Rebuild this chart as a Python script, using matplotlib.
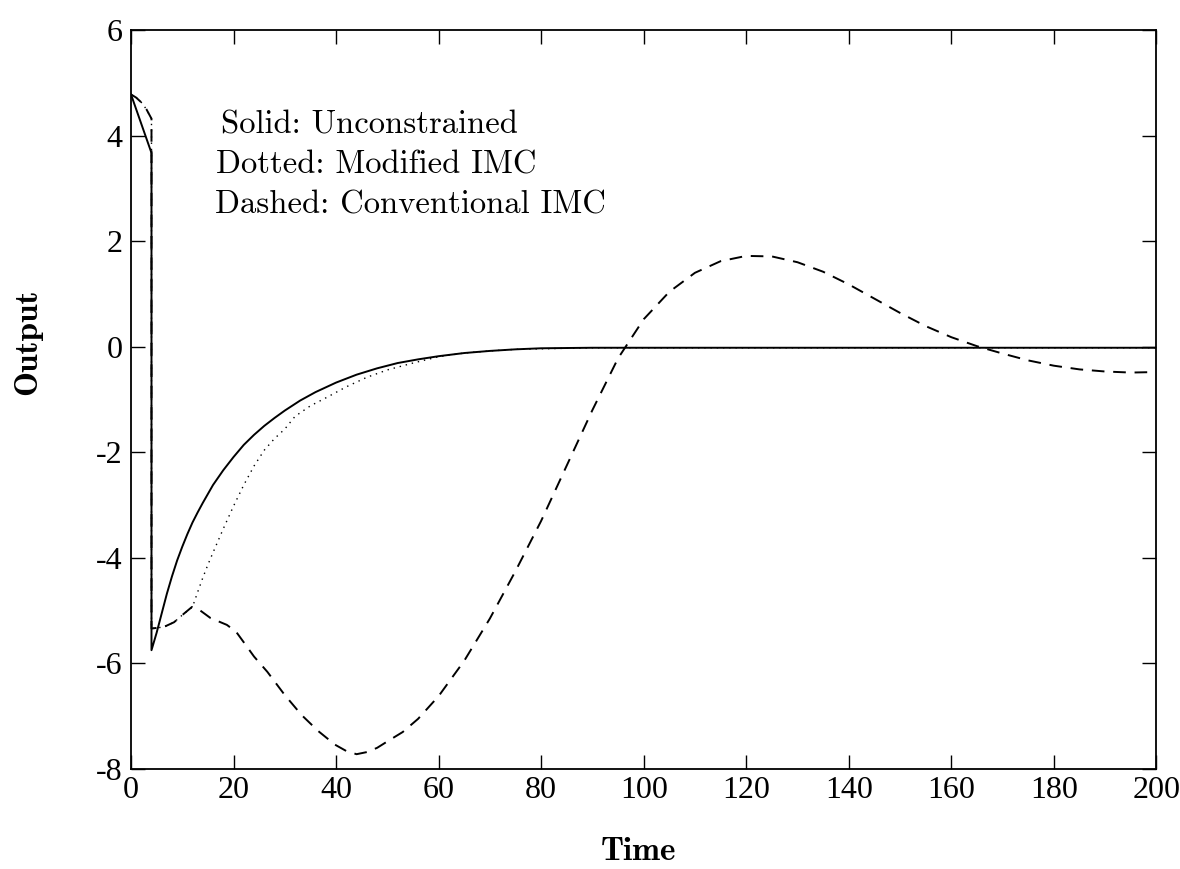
import matplotlib
matplotlib.use("Agg")
import matplotlib.pyplot as plt

plt.rcParams["axes.unicode_minus"] = False

# Unconstrained controller response
t_solid = [0, 4, 4, 5, 6, 7, 8, 9, 10, 11, 12, 13, 14, 16, 18, 20, 22, 24, 26,
           28, 30, 33, 36, 40, 44, 48, 52, 56, 60, 65, 70, 75, 80, 90, 100,
           120, 140, 160, 180, 200]
y_solid = [4.78, 3.67, -5.75, -5.42, -5.05, -4.68, -4.35, -4.05, -3.79, -3.55,
           -3.33, -3.14, -2.96, -2.62, -2.34, -2.09, -1.86, -1.67, -1.50, -1.35,
           -1.21, -1.02, -0.86, -0.68, -0.53, -0.41, -0.31, -0.24, -0.18, -0.12,
           -0.08, -0.05, -0.03, -0.02, -0.02, -0.02, -0.02, -0.02, -0.02, -0.02]

# Modified IMC response
t_dotted = [0, 1, 2, 3, 4, 4, 6.4, 8.4, 10.3, 12, 13, 14, 15, 16, 18, 20, 22,
            24, 26, 28, 30, 32, 35, 38, 42, 46, 50, 55, 60, 65, 70, 75, 80, 90,
            100, 120, 140, 160, 180, 200]
y_dotted = [4.78, 4.72, 4.63, 4.50, 4.32, -5.34, -5.31, -5.22, -5.06, -4.93,
            -4.65, -4.38, -4.13, -3.90, -3.45, -3.02, -2.62, -2.26, -1.96, -1.74,
            -1.56, -1.32, -1.12, -0.97, -0.76, -0.58, -0.44, -0.31, -0.19, -0.12,
            -0.08, -0.05, -0.04, -0.02, -0.02, -0.02, -0.02, -0.02, -0.02, -0.02]

# Conventional IMC response
t_dashed = [0, 1, 2, 3, 4, 4, 6.4, 8.4, 10.3, 11.9, 13.4, 15.5, 18.7, 20.5, 22,
            24, 26.6, 30, 33.3, 36.5, 39.8, 42, 44, 46, 48, 50.3, 53, 56, 60, 65,
            70, 75, 80, 85, 90, 95, 100, 105, 110, 115, 120, 125, 130, 135, 140,
            145, 150, 155, 160, 165, 170, 175, 180, 185, 190, 195, 200]
y_dashed = [4.78, 4.72, 4.63, 4.50, 4.32, -5.34, -5.31, -5.22, -5.06, -4.93,
            -4.99, -5.14, -5.27, -5.40, -5.60, -5.87, -6.16, -6.60, -6.98, -7.28,
            -7.54, -7.66, -7.72, -7.68, -7.60, -7.46, -7.30, -7.05, -6.62, -5.95,
            -5.15, -4.25, -3.30, -2.25, -1.20, -0.22, 0.52, 1.04, 1.40, 1.62,
            1.72, 1.71, 1.60, 1.42, 1.18, 0.91, 0.64, 0.39, 0.18, 0.01, -0.13,
            -0.26, -0.36, -0.43, -0.47, -0.49, -0.48]

x_ticks = [0, 20, 40, 60, 80, 100, 120, 140, 160, 180, 200]
y_ticks = [-8, -6, -4, -2, 0, 2, 4, 6]

tick_font = "Liberation Serif"
text_font = "cmr10"
label_font = "cmb10"

fig = plt.figure(figsize=(11.8, 8.69), dpi=100)
ax = fig.add_axes([0.111, 0.1151, 0.869, 0.8504])

ax.plot(t_solid, y_solid, color="black", lw=1.4, ls="-")
ax.plot(t_dotted, y_dotted, color="black", lw=1.0, ls=(0, (1, 3.5)))
ax.plot(t_dashed, y_dashed, color="black", lw=1.4, ls=(0, (6.5, 4.5)))

ax.set_xlim(0, 200)
ax.set_ylim(-8, 6)
ax.set_xticks(x_ticks)
ax.set_yticks(y_ticks)
ax.set_xticklabels([str(v) for v in x_ticks], fontfamily=tick_font, fontsize=23)
ax.set_yticklabels([str(v) for v in y_ticks], fontfamily=tick_font, fontsize=23)
ax.tick_params(direction="in", length=10, width=1.0, top=True, right=True,
               pad=6)
ax.tick_params(axis="x", pad=5)
for sp in ax.spines.values():
    sp.set_linewidth(1.3)

ax.set_xlabel("Time", fontfamily=label_font, fontsize=24)
ax.xaxis.label.set_verticalalignment("center")
ax.xaxis.set_label_coords(0.495, -0.111)
ax.set_ylabel("Output", fontfamily=label_font, fontsize=24)
ax.yaxis.set_label_coords(-0.087, 0.578)

legend_lines = ["Solid: Unconstrained",
                "Dotted: Modified IMC",
                "Dashed: Conventional IMC"]
legend_x = [0.088, 0.083, 0.082]
for i, (s, lx) in enumerate(zip(legend_lines, legend_x)):
    ax.text(lx, 0.860 - i * 0.054, s, transform=ax.transAxes,
            fontfamily=text_font, fontsize=23.5, ha="left", va="baseline")

fig.savefig("out.png", dpi=100)
